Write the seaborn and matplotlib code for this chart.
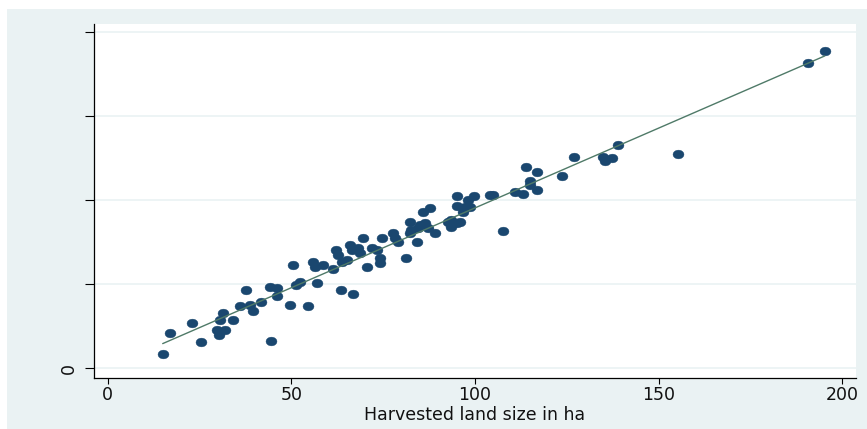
import numpy as np
import pandas as pd
import matplotlib
matplotlib.use("Agg")
import matplotlib.pyplot as plt
import seaborn as sns
from matplotlib.path import Path
from matplotlib.patches import Rectangle

# Data
land_ha = [15.0, 17.1, 22.9, 25.3, 29.7, 30.4, 31.9, 30.6, 31.3, 34.2,
           37.6, 36.0, 38.7, 39.6, 41.7, 44.6, 44.2, 46.0, 46.0, 49.6,
           51.4, 52.3, 54.6, 57.0, 63.5, 66.7, 50.5, 56.0, 56.4, 58.5,
           61.4, 62.3, 62.8, 63.7, 65.1, 66.0, 66.4, 68.2, 68.7, 69.6,
           70.7, 71.9, 73.2, 74.1, 74.1, 74.6, 77.6, 78.2, 79.1, 81.2,
           82.7, 84.1, 84.5, 82.3, 82.3, 85.9, 87.7, 85.0, 86.4, 87.3,
           89.1, 95.0, 95.0, 99.8, 104.1, 97.3, 98.6, 96.8, 93.6, 95.0,
           95.9, 93.6, 107.7, 104.8, 110.9, 113.0, 113.9, 116.8, 114.9, 114.9,
           116.8, 123.6, 126.9, 134.9, 135.4, 137.2, 139.0, 155.3, 190.6, 195.2,
           92.6, 98.1]
production = [167, 413, 532, 313, 452, 393, 452, 571, 651, 571,
              929, 738, 750, 682, 789, 325, 961, 949, 857, 750,
              988, 1027, 738, 1008, 929, 881, 1226, 1265, 1206, 1226,
              1175, 1405, 1345, 1265, 1286, 1464, 1405, 1425, 1366, 1544,
              1206, 1425, 1405, 1306, 1246, 1544, 1604, 1544, 1504, 1306,
              1643, 1504, 1663, 1742, 1604, 1861, 1901, 1702, 1723, 1663,
              1611, 2048, 1929, 2048, 2060, 1920, 1920, 1861, 1762, 1723,
              1742, 1682, 1635, 2060, 2099, 2068, 2389, 2337, 2230, 2179,
              2119, 2289, 2516, 2516, 2468, 2496, 2655, 2544, 3631, 3774,
              1738, 2000]

x_ticks = [0, 50, 100, 150, 200]
x_tick_labels = ["0", "50", "100", "150", "200"]
y_ticks = [0, 1000, 2000, 3000, 4000]
y_tick_labels = ["0", "", "", "", ""]
x_label = "Harvested land size in ha"

df = pd.DataFrame({"land": land_ha, "prod": production})

sns.set_theme(style="white")
plt.rcParams["font.family"] = ["DejaVu Sans"]

BG = "#eaf2f3"
fig = plt.figure(figsize=(8.67, 4.29), dpi=100)
fig.patch.set_facecolor("white")
fig.patches.append(Rectangle((7 / 867, 0), 1, 1 - 9 / 429, transform=fig.transFigure,
                             facecolor=BG, edgecolor="none", zorder=-10))

ax = fig.add_axes([94 / 867, 1 - 378 / 429, (856 - 94) / 867, (378 - 24) / 429])
ax.set_facecolor("white")

# elliptical marker (slightly wider than tall)
t = np.linspace(0, 2 * np.pi, 40)
ell = Path(np.column_stack([1.25 * np.cos(t), np.sin(t)]), closed=True)

sns.regplot(data=df, x="land", y="prod", ax=ax, ci=None, truncate=True,
            marker=ell,
            scatter_kws=dict(s=62, color="#1a476f", edgecolor="#1a476f", linewidths=0.3, alpha=1, zorder=3),
            line_kws=dict(color="#4f7a68", linewidth=1.0, zorder=4))

ax.set_xlim(-3.7, 203.7)
ax.set_ylim(-119, 4095)
ax.set_xticks(x_ticks)
ax.set_xticklabels(x_tick_labels, fontsize=12.5)
ax.set_yticks(y_ticks)
ax.set_yticklabels(y_tick_labels, fontsize=12.5, rotation=90, va="center")
ax.set_xlabel(x_label, fontsize=12.5, labelpad=1, color="#111111")
ax.set_ylabel("")

for ytk in y_ticks:
    ax.axhline(ytk, color=BG, linewidth=1.2, zorder=1)

for side in ["top", "right"]:
    ax.spines[side].set_visible(False)
for side in ["left", "bottom"]:
    ax.spines[side].set_color("black")
    ax.spines[side].set_linewidth(0.9)

ax.tick_params(axis="y", direction="out", length=6.5, width=0.8, color="black", pad=5, left=True, labelcolor="#111111")
ax.tick_params(axis="x", direction="out", length=4.5, width=0.8, color="black", pad=1.5, bottom=True, labelcolor="#111111")

fig.savefig("out.png", dpi=100)
